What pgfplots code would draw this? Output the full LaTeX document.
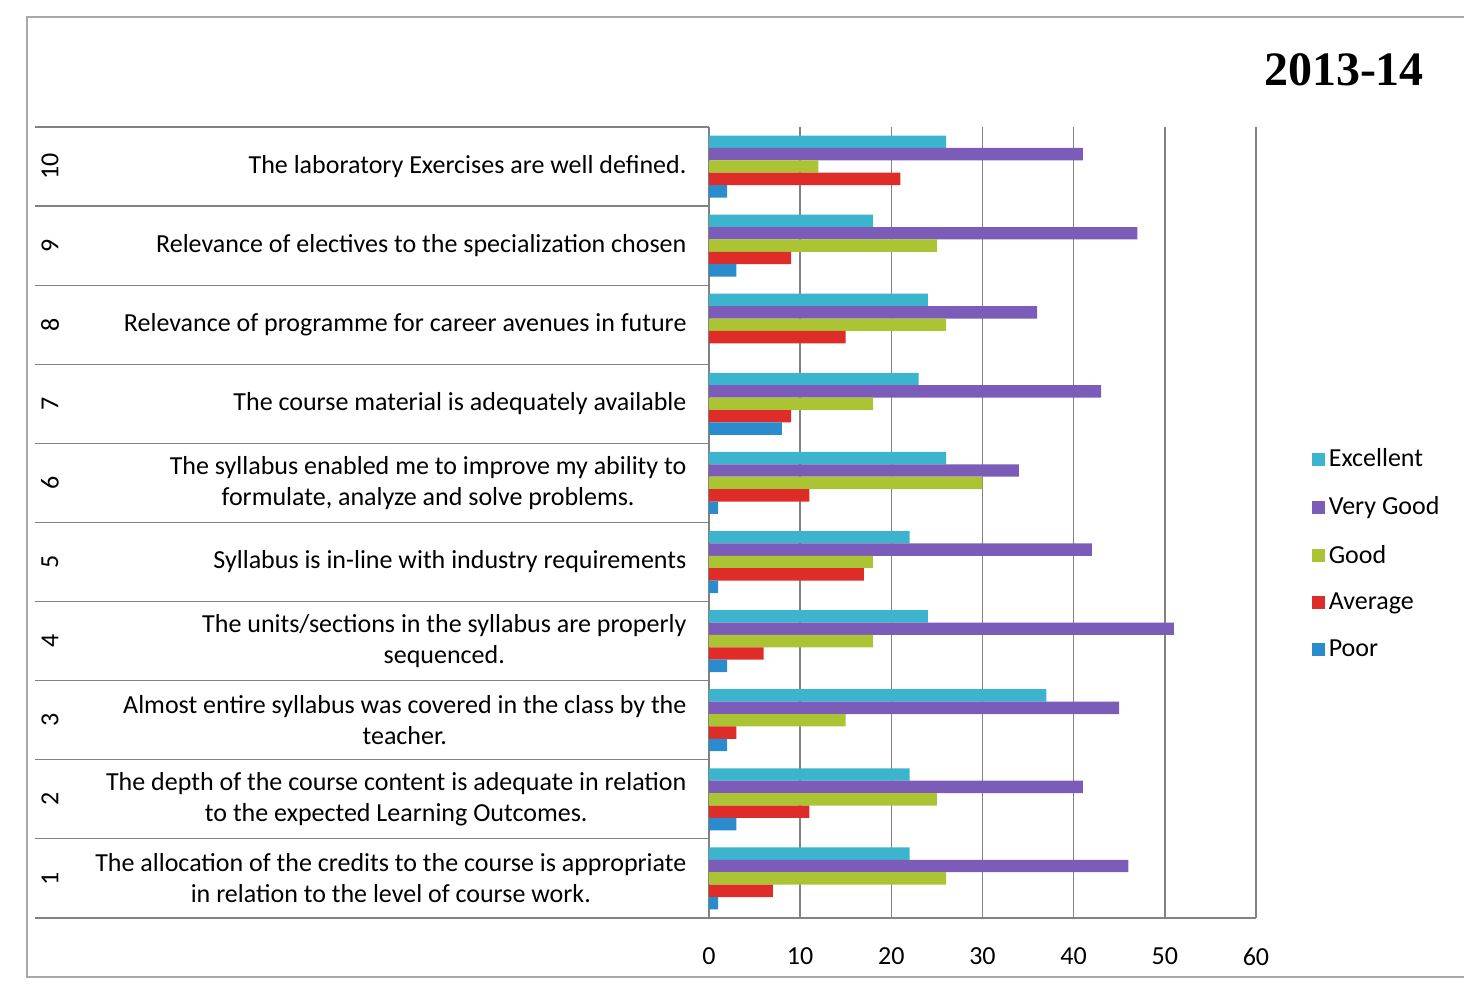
\documentclass[border=0pt]{standalone}
\usepackage{pgfplots}
\pgfplotsset{compat=1.18}
\usepackage{fontspec}
\setmainfont{Carlito}
\newfontfamily\titlefont{Liberation Serif}
\definecolor{cExc}{RGB}{60,180,205}
\definecolor{cVG}{RGB}{123,92,184}
\definecolor{cGood}{RGB}{170,196,52}
\definecolor{cAvg}{RGB}{222,44,40}
\definecolor{cPoor}{RGB}{42,140,205}
\definecolor{lineg}{RGB}{130,130,130}
\begin{document}
\begin{tikzpicture}
\path[use as bounding box] (0,0) rectangle (732pt,495pt);
\draw[lineg!70, line width=0.6pt] (740pt,486.5pt) -- (13.5pt,486.5pt) -- (13.5pt,6.5pt) -- (740pt,6.5pt);
\node[font=\titlefont\bfseries\fontsize{24}{28}\selectfont] at (672pt,460pt) {2013-14};
\begin{axis}[
  at={(354.5pt,36pt)}, anchor=south west,
  scale only axis, width=273.5pt, height=395.5pt,
  clip=false,
  xbar, bar width=6.2pt,
  xmin=0, xmax=60, ymin=0.5, ymax=10.5,
  xtick={0,10,...,60},
  ytick={1,...,10},
  yticklabels={
    {The allocation of the credits to the course is appropriate\\in relation to the level of course work.},
    {The depth of the course content is adequate in relation\\to the expected Learning Outcomes.},
    {Almost entire syllabus was covered in the class by the\\teacher.},
    {The units/sections in the syllabus are properly\\sequenced.},
    {Syllabus is in-line with industry requirements},
    {The syllabus enabled me to improve my ability to\\formulate, analyze and solve problems.},
    {The course material is adequately available},
    {Relevance of programme for career avenues in future},
    {Relevance of electives to the specialization chosen},
    {The laboratory Exercises are well defined.}},
  yticklabel style={align=center, font=\fontsize{13}{15.6}\selectfont, xshift=-3.5pt},
  xticklabel style={font=\fontsize{13}{15.6}\selectfont, yshift=-11.5pt},
  /pgf/number format/assume math mode=true,
  axis x line*=bottom, axis y line*=left,
  axis line style={-, draw=lineg, line width=0.7pt},
  tick style={draw=none},
  xmajorgrids, major grid style={draw=lineg, line width=0.7pt},
  extra y ticks={0.5,1.5,...,10.5},
  extra y tick labels={},
  extra y tick style={tick style={draw=lineg, line width=0.6pt}, major tick length=337pt, tick align=outside, grid=none},
  legend style={draw=none, fill=none, at={(1.09,0.46)}, anchor=west,
    font=\fontsize{13}{15.6}\selectfont, row sep=9.5pt, legend cell align=left},
  legend image code/.code={\fill[#1] (0pt,-3.3pt) rectangle (6.6pt,3.3pt);},
]
\addplot[fill=cExc, draw=none, bar shift=12.4pt] coordinates {(22,1) (22,2) (37,3) (24,4) (22,5) (26,6) (23,7) (24,8) (18,9) (26,10)};
\addplot[fill=cVG, draw=none, bar shift=6.2pt] coordinates {(46,1) (41,2) (45,3) (51,4) (42,5) (34,6) (43,7) (36,8) (47,9) (41,10)};
\addplot[fill=cGood, draw=none, bar shift=0pt] coordinates {(26,1) (25,2) (15,3) (18,4) (18,5) (30,6) (18,7) (26,8) (25,9) (12,10)};
\addplot[fill=cAvg, draw=none, bar shift=-6.2pt] coordinates {(7,1) (11,2) (3,3) (6,4) (17,5) (11,6) (9,7) (15,8) (9,9) (21,10)};
\addplot[fill=cPoor, draw=none, bar shift=-12.4pt] coordinates {(1,1) (3,2) (2,3) (2,4) (1,5) (1,6) (8,7) (0,8) (3,9) (2,10)};
\legend{Excellent, Very Good, Good, Average, Poor}
\node[rotate=90, font=\fontsize{13}{15}\selectfont] at ([xshift=-329.5pt]axis cs:0,1) {1};
\node[rotate=90, font=\fontsize{13}{15}\selectfont] at ([xshift=-329.5pt]axis cs:0,2) {2};
\node[rotate=90, font=\fontsize{13}{15}\selectfont] at ([xshift=-329.5pt]axis cs:0,3) {3};
\node[rotate=90, font=\fontsize{13}{15}\selectfont] at ([xshift=-329.5pt]axis cs:0,4) {4};
\node[rotate=90, font=\fontsize{13}{15}\selectfont] at ([xshift=-329.5pt]axis cs:0,5) {5};
\node[rotate=90, font=\fontsize{13}{15}\selectfont] at ([xshift=-329.5pt]axis cs:0,6) {6};
\node[rotate=90, font=\fontsize{13}{15}\selectfont] at ([xshift=-329.5pt]axis cs:0,7) {7};
\node[rotate=90, font=\fontsize{13}{15}\selectfont] at ([xshift=-329.5pt]axis cs:0,8) {8};
\node[rotate=90, font=\fontsize{13}{15}\selectfont] at ([xshift=-329.5pt]axis cs:0,9) {9};
\node[rotate=90, font=\fontsize{13}{15}\selectfont] at ([xshift=-329.5pt]axis cs:0,10) {10};
\end{axis}
\end{tikzpicture}
\end{document}
